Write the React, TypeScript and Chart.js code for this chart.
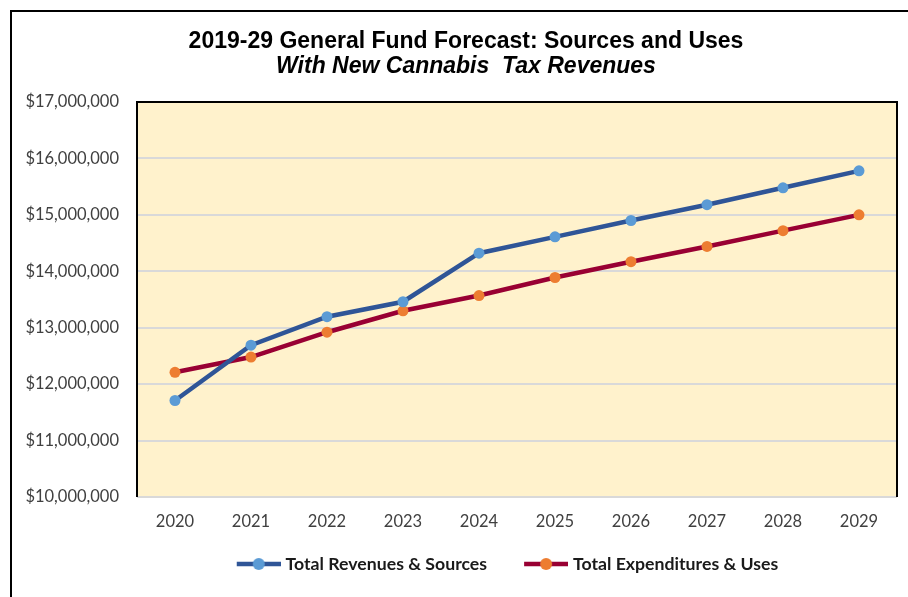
import React, { useEffect, useRef } from "react";
import { Chart, registerables } from "chart.js";

Chart.register(...registerables);

const years = ["2020", "2021", "2022", "2023", "2024", "2025", "2026", "2027", "2028", "2029"];
const revenues = [11710000, 12690000, 13195000, 13460000, 14320000, 14610000, 14900000, 15180000, 15480000, 15780000];
const expenditures = [12210000, 12480000, 12920000, 13300000, 13570000, 13890000, 14170000, 14440000, 14720000, 15000000];
const seriesNames = ["Total Revenues & Sources", "Total Expenditures & Uses"];
const yMin = 10000000;
const yMax = 17000000;
const yStep = 1000000;
const titleText = "2019-29 General Fund Forecast: Sources and Uses";
const subtitleText = "With New Cannabis  Tax Revenues";

const lineColors = ["#2F5597", "#990033"];
const pointColors = ["#5B9BD5", "#ED7D31"];

const TITLE_FONT = 23;
const TITLE_LH = 1.2;
const LEGEND_FONT = 17.7;
const LEGEND_PAD = 37;
const MARK_BOX = 40;

function makeMarker(line: string, point: string): HTMLCanvasElement {
  const c = document.createElement("canvas");
  c.width = 48;
  c.height = 14;
  const ctx = c.getContext("2d")!;
  ctx.strokeStyle = line;
  ctx.lineWidth = 4.5;
  ctx.beginPath();
  ctx.moveTo(4, 7);
  ctx.lineTo(48, 7);
  ctx.stroke();
  ctx.fillStyle = point;
  ctx.beginPath();
  ctx.arc(26, 7, 6, 0, Math.PI * 2);
  ctx.fill();
  return c;
}

const frame = {
  id: "frame",
  beforeDraw(chart: any) {
    const a = chart.chartArea;
    const ctx = chart.ctx;
    ctx.save();
    ctx.fillStyle = "#FFF2CC";
    ctx.fillRect(a.left, a.top, a.right - a.left, a.bottom - a.top);
    ctx.restore();
  },
  beforeDatasetsDraw(chart: any) {
    const a = chart.chartArea;
    const ctx = chart.ctx;
    ctx.save();
    ctx.strokeStyle = "#D9D9D9";
    ctx.lineWidth = 2;
    ctx.beginPath();
    ctx.moveTo(a.left, a.bottom);
    ctx.lineTo(a.right, a.bottom);
    ctx.stroke();
    ctx.strokeStyle = "#000000";
    ctx.lineWidth = 2;
    ctx.beginPath();
    ctx.moveTo(a.left, a.bottom);
    ctx.lineTo(a.left, a.top);
    ctx.lineTo(a.right, a.top);
    ctx.lineTo(a.right, a.bottom);
    ctx.stroke();
    ctx.restore();
  },
  afterLayout(chart: any) {
    const lh = TITLE_FONT * TITLE_LH;
    for (const b of chart.boxes) {
      const t = b && b.options && b.options.text;
      if (t === titleText || t === subtitleText) {
        const cy = t === titleText ? 41.6 : 66.8;
        const dx = 466 - (b.left + b.right) / 2;
        b.left += dx;
        b.right += dx;
        b.top = cy - lh / 2;
        b.bottom = b.top + lh;
      }
    }
    const lg = chart.legend;
    if (lg) {
      const dx = 507.5 - (lg.left + lg.right) / 2;
      lg.left += dx;
      lg.right += dx;
      const h = lg.bottom - lg.top;
      lg.top = 564 - LEGEND_PAD - LEGEND_FONT / 2;
      lg.bottom = lg.top + h;
    }
  },
};

export default function App() {
  const ref = useRef<HTMLCanvasElement | null>(null);

  useEffect(() => {
    if (!ref.current) return;
    const markers = [makeMarker(lineColors[0], pointColors[0]), makeMarker(lineColors[1], pointColors[1])];
    const chart = new Chart(ref.current, {
      type: "line",
      data: {
        labels: years,
        datasets: [
          {
            label: seriesNames[0],
            data: revenues,
            borderColor: lineColors[0],
            backgroundColor: pointColors[0],
            borderWidth: 4.5,
            pointRadius: 5.5,
            pointBorderWidth: 0,
            pointBackgroundColor: pointColors[0],
            pointBorderColor: pointColors[0],
            tension: 0,
            fill: false,
          },
          {
            label: seriesNames[1],
            data: expenditures,
            borderColor: lineColors[1],
            backgroundColor: pointColors[1],
            borderWidth: 4.5,
            pointRadius: 5.5,
            pointBorderWidth: 0,
            pointBackgroundColor: pointColors[1],
            pointBorderColor: pointColors[1],
            tension: 0,
            fill: false,
          },
        ],
      },
      options: {
        responsive: false,
        animation: false,
        events: [],
        layout: { padding: { left: 0, right: 11, top: 102 - 2 * TITLE_FONT * TITLE_LH, bottom: 0 } },
        scales: {
          x: {
            offset: true,
            grid: { display: false, drawTicks: false },
            border: { display: false },
            ticks: {
              padding: 15,
              color: "#404040",
              font: { family: "Lato, 'Open Sans', sans-serif", size: 16.5 },
              maxRotation: 0,
              autoSkip: false,
            },
            afterFit(scale: any) {
              scale.height = 100 - (LEGEND_FONT + LEGEND_PAD + 10);
            },
          },
          y: {
            min: yMin,
            max: yMax,
            grid: { color: "#D9D9D9", lineWidth: 2, drawTicks: false },
            border: { display: false },
            ticks: {
              stepSize: yStep,
              padding: 18,
              color: "#404040",
              font: { family: "Lato, 'Open Sans', sans-serif", size: 16.5 },
              callback: (v: any) => "$" + Number(v).toLocaleString("en-US"),
            },
            afterFit(scale: any) {
              scale.width = 137;
            },
          },
        },
        plugins: {
          title: {
            display: true,
            text: titleText,
            color: "#000000",
            padding: { top: 0, bottom: 0 },
            font: { family: "'Liberation Sans', Arial, sans-serif", size: TITLE_FONT, weight: "bold", lineHeight: TITLE_LH },
          },
          subtitle: {
            display: true,
            text: subtitleText,
            color: "#000000",
            padding: { top: 0, bottom: 0 },
            font: { family: "'Liberation Sans', Arial, sans-serif", size: TITLE_FONT, weight: "bold", style: "italic", lineHeight: TITLE_LH },
          },
          legend: {
            position: "bottom",
            labels: {
              usePointStyle: true,
              pointStyleWidth: MARK_BOX,
              padding: LEGEND_PAD,
              color: "#1a1a1a",
              font: { family: "Lato, 'Open Sans', sans-serif", size: LEGEND_FONT, weight: "bold" },
              generateLabels: (ch: any) =>
                ch.data.datasets.map((d: any, i: number) => ({
                  text: d.label,
                  pointStyle: markers[i],
                  fillStyle: pointColors[i],
                  strokeStyle: lineColors[i],
                  lineWidth: 0,
                  hidden: false,
                  datasetIndex: i,
                  fontColor: "#1a1a1a",
                })),
            },
          },
          tooltip: { enabled: false },
        },
      },
      plugins: [frame],
    });
    return () => chart.destroy();
  }, []);

  return (
    <div style={{ position: "fixed", left: 0, top: 0, width: 908, height: 597, background: "#ffffff", overflow: "hidden" }}>
      <div
        style={{
          position: "absolute",
          left: 10,
          top: 10,
          width: 1000,
          height: 1000,
          borderTop: "2px solid #000",
          borderLeft: "2px solid #000",
        }}
      />
      <canvas ref={ref} width={908} height={597} style={{ position: "absolute", left: 0, top: 0, width: 908, height: 597 }} />
    </div>
  );
}
